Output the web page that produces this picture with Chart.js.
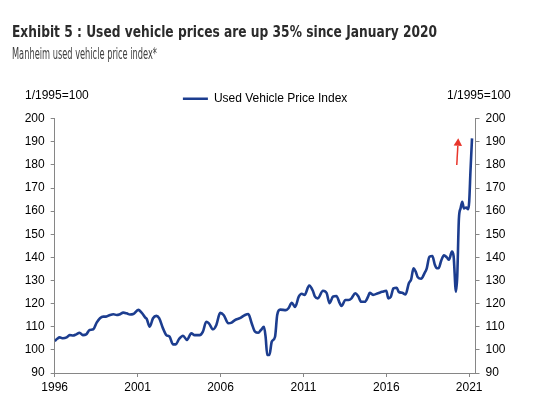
<!DOCTYPE html>
<html><head><meta charset="utf-8">
<script src="https://cdn.jsdelivr.net/npm/chart.js@4.4.1/dist/chart.umd.min.js"></script>
<style>
html,body{margin:0;padding:0;background:#fff;}
#wrap{position:relative;width:533px;height:405px;overflow:hidden;background:#fff;}
#c{position:absolute;left:0;top:0;}
.t{position:absolute;white-space:nowrap;line-height:1;transform-origin:0 0;}
#title{left:12px;top:22px;font:bold 16.5px 'Liberation Sans Narrow','DejaVu Sans Condensed',sans-serif;color:#2b2b2b;}
#sub{left:12px;top:45px;font:15px 'Liberation Sans Narrow','DejaVu Sans Condensed',sans-serif;color:#404040;}
.unit{font:12px 'Liberation Sans',Arial,sans-serif;color:#000;top:88.4px;}
</style></head>
<body><div id="wrap"><canvas id="c" width="533" height="405"></canvas>
<div class="t" id="title">Exhibit 5 : Used vehicle prices are up 35% since January 2020</div>
<div class="t" id="sub">Manheim used vehicle price index*</div>
<div class="t unit" style="left:25px">1/1995=100</div>
<div class="t unit" style="left:447px">1/1995=100</div>
</div>
<script>
// ---- data (decimal year, index 1/1995=100) ----
const dates = [
 1996.00,1996.15,1996.30,1996.50,1996.72,1996.90,1997.10,1997.30,1997.50,1997.70,1997.90,
 1998.10,1998.33,1998.53,1998.73,1998.93,1999.10,1999.34,1999.54,1999.74,1999.90,
 2000.14,2000.34,2000.54,2000.74,2001.04,2001.24,2001.45,2001.55,2001.73,2001.93,
 2002.13,2002.30,2002.53,2002.73,2002.93,2003.13,2003.30,2003.50,2003.74,2003.98,
 2004.24,2004.44,2004.74,2004.94,2005.14,2005.30,2005.55,2005.75,2005.98,
 2006.20,2006.47,2006.67,2006.87,2007.17,2007.48,2007.68,2007.88,
 2008.08,2008.28,2008.44,2008.62,2008.72,2008.82,2008.95,2009.09,2009.29,2009.42,2009.60,2009.95,
 2010.10,2010.30,2010.50,2010.72,2010.90,2011.07,2011.35,2011.57,2011.70,2011.87,
 2012.18,2012.40,2012.58,2012.78,2012.99,2013.19,2013.30,2013.53,2013.73,2013.90,
 2014.13,2014.30,2014.49,2014.70,2014.90,2015.00,2015.20,2015.50,2015.75,
 2016.00,2016.12,2016.27,2016.43,2016.63,2016.75,2016.96,2017.16,2017.36,2017.50,2017.64,2017.77,2017.90,
 2018.10,2018.30,2018.44,2018.60,2018.78,2018.92,2019.05,2019.17,2019.31,2019.48,2019.65,2019.78,2019.96,
 2020.06,2020.20,2020.28,2020.38,2020.48,2020.58,2020.68,2020.82,2020.94,2021.00,2021.08,2021.17
];
const indexValues = [
 103.8,104.8,105.4,105.0,105.4,106.4,106.2,106.7,107.4,106.4,106.7,
 108.6,108.9,111.8,113.7,114.4,114.4,115.1,115.4,115.1,115.3,
 116.1,115.8,115.3,115.5,117.3,116.1,114.1,113.4,110.0,113.7,
 114.7,113.7,109.3,106.4,105.7,102.4,102.4,104.7,106.1,104.3,
 107.2,106.4,106.4,107.9,112.2,111.5,108.9,110.8,116.0,
 115.0,111.5,111.8,112.9,113.7,115.1,115.5,111.5,
 107.9,107.4,108.6,110.0,105.7,97.8,97.8,103.5,105.7,115.1,117.4,117.2,
 118.0,120.4,118.6,123.0,124.3,123.8,127.8,125.6,123.0,122.3,
 125.6,124.6,120.2,123.0,123.3,120.2,119.0,121.6,121.6,122.3,
 124.5,123.3,120.8,120.8,123.0,124.7,123.8,124.5,125.1,
 125.6,122.3,122.9,126.6,126.9,125.1,124.7,124.0,128.8,130.5,135.3,133.9,131.4,
 130.8,133.1,135.3,140.3,140.6,137.0,135.3,135.5,138.6,140.9,140.0,139.0,142.5,
 140.5,125.2,132.0,156.9,161.2,164.1,161.2,161.6,160.8,164.1,177.8,191.5
];
const seriesName = 'Used Vehicle Price Index';
const yearTicks = [1996, 2001, 2006, 2011, 2016, 2021];
const yMin = 90, yMax = 200, yStep = 10;
const xMin = 1996, xMax = 2021.38;
const arrowFrom = [2020.25, 180.0];
const arrowTo = [2020.34, 191.5];

const lineColor = '#1c3d8f';
const arrowColor = '#e8352b';
const axisColor = '#868686';

// fit title widths
function fitWidth(id, target){
  const el = document.getElementById(id);
  const w = el.getBoundingClientRect().width;
  if (w > 0) el.style.transform = 'scaleX(' + (target / w) + ')';
}
fitWidth('title', 425);
fitWidth('sub', 145);

Chart.defaults.font.family = "'Liberation Sans', Arial, sans-serif";
Chart.defaults.font.size = 12;
Chart.defaults.color = '#000';

const arrowPlugin = {
  id: 'arrow',
  afterDatasetsDraw(chart){
    const sx = chart.scales.x, sy = chart.scales.y, c = chart.ctx;
    const x0 = sx.getPixelForValue(arrowFrom[0]), y0 = sy.getPixelForValue(arrowFrom[1]);
    const x1 = sx.getPixelForValue(arrowTo[0]), y1 = sy.getPixelForValue(arrowTo[1]);
    const ang = Math.atan2(y1 - y0, x1 - x0);
    const headLen = 7.5, headW = 4.2;
    const bx = x1 - headLen * Math.cos(ang), by = y1 - headLen * Math.sin(ang);
    c.save();
    c.strokeStyle = arrowColor; c.fillStyle = arrowColor; c.lineWidth = 1.5;
    c.beginPath(); c.moveTo(x0, y0); c.lineTo(bx, by); c.stroke();
    c.beginPath();
    c.moveTo(x1, y1);
    c.lineTo(bx + headW * Math.sin(ang), by - headW * Math.cos(ang));
    c.lineTo(bx - headW * Math.sin(ang), by + headW * Math.cos(ang));
    c.closePath(); c.fill();
    c.restore();
  }
};

const axisGrid = {drawOnChartArea:false, drawTicks:true, tickLength:4, color:axisColor, lineWidth:1};
const axisBorder = {color:axisColor, width:1};

const chart = new Chart(document.getElementById('c'), {
  type: 'line',
  data: {
    datasets: [{
      label: seriesName,
      data: dates.map((d, i) => ({x: d, y: indexValues[i]})),
      borderColor: lineColor,
      backgroundColor: lineColor,
      borderWidth: 2.6,
      pointRadius: 0,
      pointStyle: 'line',
      cubicInterpolationMode: 'monotone',
      xAxisID: 'x', yAxisID: 'y'
    }]
  },
  options: {
    responsive: false,
    animation: false,
    layout: {padding: {left: 20, right: 20, top: 60, bottom: 8}},
    plugins: {
      legend: {
        display: true, position: 'top',
        labels: {usePointStyle: true, pointStyle: 'line', pointStyleWidth: 25, boxHeight: 12, padding: 10, color: '#000', font: {size: 12}}
      },
      tooltip: {enabled: false}
    },
    scales: {
      x: {
        type: 'linear', min: xMin, max: xMax,
        afterBuildTicks: s => { s.ticks = yearTicks.map(v => ({value: v})); },
        ticks: {callback: v => String(v), autoSkip: false, maxRotation: 0, padding: 3, color: '#000'},
        grid: axisGrid, border: axisBorder
      },
      y: {
        position: 'left', min: yMin, max: yMax,
        ticks: {stepSize: yStep, padding: 6, color: '#000'},
        grid: axisGrid, border: axisBorder
      },
      y2: {
        position: 'right', min: yMin, max: yMax,
        ticks: {stepSize: yStep, padding: 6, color: '#000'},
        grid: axisGrid, border: axisBorder
      }
    }
  },
  plugins: [arrowPlugin]
});

// nudge the legend up a little, as in the reference
const legendDraw = chart.legend.draw.bind(chart.legend);
chart.legend.draw = function(area){
  const c = chart.ctx; c.save(); c.translate(0, -4); legendDraw(area); c.restore();
};

// place the plot area where the reference has it
const target = {left: 54.7, right: 475.5, top: 118.7, bottom: 373};
for (let i = 0; i < 3; i++) {
  const a = chart.chartArea, p = chart.config.options.layout.padding;
  chart.config.options.layout.padding = {
    left: p.left + (target.left - a.left),
    right: p.right + (a.right - target.right),
    top: p.top + (target.top - a.top),
    bottom: p.bottom + (a.bottom - target.bottom)
  };
  chart.update('none');
}
</script>
</body></html>
